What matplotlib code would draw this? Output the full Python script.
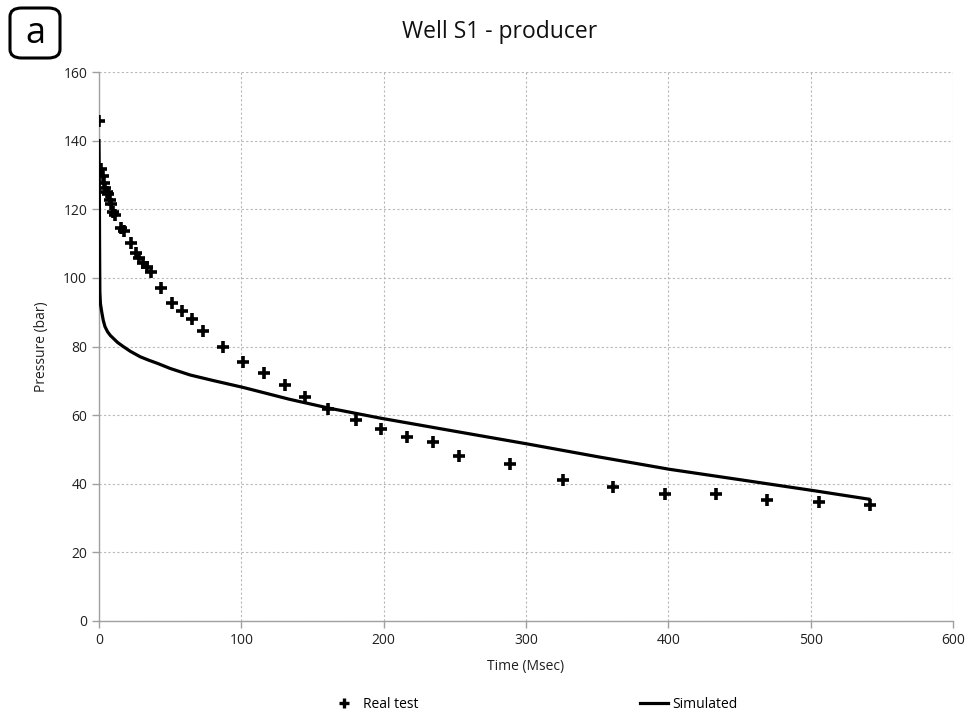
import matplotlib
matplotlib.use("Agg")
import matplotlib.pyplot as plt
from matplotlib.patches import FancyBboxPatch
from matplotlib.lines import Line2D

plt.rcParams['font.family'] = ['Open Sans', 'DejaVu Sans']

# Real test data (time in Msec, pressure in bar)
real_time = [0, 1.4, 2.6, 3.5, 4.2, 5.4, 6.6, 7.7, 8.4, 10.1, 11.3, 15.2, 17.8,
             22.3, 25.8, 28.1, 30.7, 33.5, 36.6, 43.6, 51.3, 58.4, 65.4, 73.2,
             87.2, 101.3, 116.1, 130.8, 144.9, 161, 180.8, 198.4, 216.6, 234.9,
             253.2, 289.1, 325.7, 360.8, 397.4, 433.3, 469.2, 505.7, 541.6]
real_pressure = [145.7, 131.7, 129.7, 127.7, 126.1, 125.1, 124.5, 122.7, 121.4,
                 119.1, 118.3, 114.6, 113.8, 110.3, 107.2, 105.7, 104.3, 103.3,
                 101.8, 97.1, 92.7, 90.4, 88.0, 84.5, 79.9, 75.5, 72.3, 68.8,
                 65.3, 61.8, 58.6, 56.0, 53.6, 52.2, 48.1, 45.8, 41.1, 39.1,
                 37.0, 37.0, 35.3, 34.7, 33.8]

# Simulated curve
sim_time = [0, 0.2, 0.4, 0.6, 1.0, 1.9, 3.0, 4.2, 6.0, 8.0, 10, 13, 17, 22,
            29, 35, 41, 50, 64, 80, 101, 118, 134, 162, 198, 250, 301, 350,
            401, 450, 502, 541]
sim_pressure = [140, 130, 110, 96, 92.5, 90.1, 87.6, 85.8, 84.3, 83.2, 82.4,
                81.2, 80.0, 78.6, 77.0, 76.0, 75.1, 73.6, 71.7, 70.1, 68.1,
                66.3, 64.6, 62.0, 59.1, 55.3, 51.6, 47.9, 44.2, 41.2, 38.0, 35.5]

x_ticks = [0, 100, 200, 300, 400, 500, 600]
y_ticks = [0, 20, 40, 60, 80, 100, 120, 140, 160]

W, H = 974, 719
fig = plt.figure(figsize=(W / 100, H / 100), dpi=100)
ax = fig.add_axes([99 / W, 1 - 621 / H, (953 - 99) / W, (621 - 72) / H])

ax.plot(sim_time, sim_pressure, color='black', lw=2.3, zorder=3,
        solid_joinstyle='round')
ax.plot(real_time, real_pressure, linestyle='none', marker='+', color='black',
        markersize=8, markeredgewidth=2.6, zorder=4)

ax.set_xlim(0, 600)
ax.set_ylim(0, 160)
ax.set_xticks(x_ticks)
ax.set_yticks(y_ticks)
ax.grid(True, color='#b8b8b8', linestyle=(0, (2, 2)), lw=0.8)
ax.set_axisbelow(True)
for s in ['top', 'right']:
    ax.spines[s].set_visible(False)
for s in ['left', 'bottom']:
    ax.spines[s].set_color('#a0a0a0')
    ax.spines[s].set_linewidth(1.0)
ax.tick_params(axis='both', colors='#a0a0a0', labelcolor='#202020',
               labelsize=10, length=5, width=1, direction='out')
ax.set_xlabel('Time (Msec)', fontsize=10, color='#202020', labelpad=8)
ax.set_ylabel('Pressure (bar)', fontsize=10, color='#202020', labelpad=10)

fig.text(500 / W, 1 - 32 / H, 'Well S1 - producer', ha='center', va='center',
         fontsize=16.5, color='#101010')

# panel label box
box = FancyBboxPatch((10 / W, 1 - 58 / H), 50 / W, 50 / H,
                     boxstyle='round,pad=0,rounding_size=0.012',
                     transform=fig.transFigure, fc='white', ec='black', lw=2.2)
fig.patches.append(box)
fig.text(35 / W, 1 - 34 / H, 'a', ha='center', va='center', fontsize=26,
         color='black')

handles = [Line2D([], [], linestyle='none', marker='+', color='black',
                  markersize=7, markeredgewidth=2.4),
           Line2D([], [], color='black', lw=2.3)]
fig.legend(handles, ['Real test', 'Simulated'], loc='center',
           bbox_to_anchor=(534 / W, 1 - 704 / H), ncol=2, frameon=False,
           fontsize=10, columnspacing=16, handlelength=2, handletextpad=0.3)

fig.savefig('out.png', dpi=100)
